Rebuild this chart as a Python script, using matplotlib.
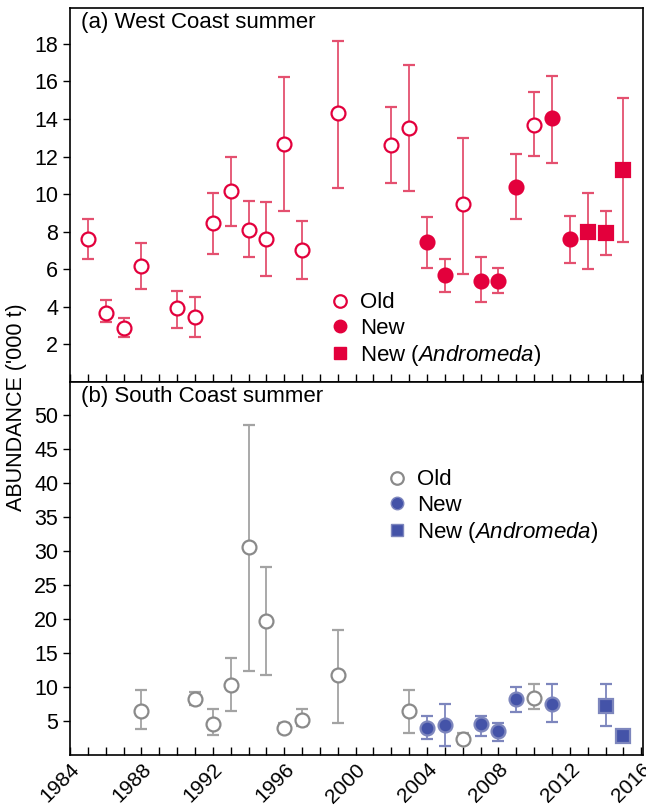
import matplotlib.pyplot as plt
from matplotlib.lines import Line2D
import numpy as np

plt.rcParams['font.family'] = ['Liberation Sans', 'DejaVu Sans']
plt.rcParams['mathtext.fontset'] = 'custom'
plt.rcParams['mathtext.it'] = 'Liberation Sans:italic'
plt.rcParams['mathtext.rm'] = 'Liberation Sans'

# West Coast summer
wc_old_year = [1985, 1986, 1987, 1988, 1990, 1991, 1992, 1993, 1994, 1995, 1996, 1997, 1999, 2002, 2003, 2006, 2010]
wc_old_val = [7.6, 3.7, 2.9, 6.15, 3.95, 3.45, 8.45, 10.15, 8.1, 7.6, 12.65, 7.0, 14.3, 12.6, 13.5, 9.45, 13.7]
wc_old_lo = [6.55, 3.2, 2.4, 4.95, 2.9, 2.4, 6.8, 8.3, 6.65, 5.65, 9.1, 5.5, 10.35, 10.6, 10.15, 5.75, 12.05]
wc_old_hi = [8.7, 4.35, 3.4, 7.4, 4.85, 4.55, 10.05, 12.0, 9.65, 9.6, 16.25, 8.55, 18.15, 14.65, 16.85, 13.0, 15.45]

wc_new_year = [2004, 2005, 2007, 2008, 2009, 2011, 2012]
wc_new_val = [7.45, 5.7, 5.35, 5.4, 10.4, 14.05, 7.6]
wc_new_lo = [6.05, 4.8, 4.25, 4.75, 8.7, 11.65, 6.35]
wc_new_hi = [8.8, 6.55, 6.65, 6.05, 12.15, 16.3, 8.85]

wc_and_year = [2013, 2014, 2015]
wc_and_val = [8.0, 7.95, 11.3]
wc_and_lo = [6.0, 6.75, 7.45]
wc_and_hi = [10.05, 9.1, 15.1]

# South Coast summer
sc_old_year = [1988, 1991, 1992, 1993, 1994, 1995, 1996, 1997, 1999, 2003, 2006, 2010]
sc_old_val = [6.5, 8.3, 4.5, 10.3, 30.5, 19.7, 4.0, 5.2, 11.8, 6.5, 2.4, 8.4]
sc_old_lo = [3.8, 7.3, 3.0, 6.4, 12.4, 11.8, 3.3, 4.3, 4.7, 3.3, 1.6, 6.7]
sc_old_hi = [9.5, 9.3, 6.7, 14.3, 48.5, 27.6, 4.7, 6.7, 18.4, 9.6, 3.3, 10.4]

sc_new_year = [2004, 2005, 2007, 2008, 2009, 2011]
sc_new_val = [3.9, 4.4, 4.5, 3.5, 8.2, 7.5]
sc_new_lo = [2.3, 1.4, 2.8, 2.1, 6.3, 4.8]
sc_new_hi = [5.7, 7.5, 5.7, 4.7, 10.0, 10.4]

sc_and_year = [2014, 2015]
sc_and_val = [7.2, 2.8]
sc_and_lo = [4.3, 2.2]
sc_and_hi = [10.4, 3.4]

red = '#e3003c'
red_err = '#e4506f'
gray = '#8a8a8a'
gray_err = '#a3a3a3'
blue = '#4453a8'
blue_err = '#7d86bd'


def draw(ax, x, v, lo, hi, marker, face, edge, ecol, ms):
    v = np.array(v)
    yerr = [v - np.array(lo), np.array(hi) - v]
    ax.errorbar(x, v, yerr=yerr, fmt=marker, ms=ms, mfc=face, mec=edge, mew=1.6,
                ecolor=ecol, elinewidth=1.3, capsize=4, capthick=1.3, zorder=3)


fig = plt.figure(figsize=(6.46, 8.07), dpi=100)
ax1 = fig.add_axes([0.1084, 0.5266, 0.887, 0.4634])
ax2 = fig.add_axes([0.1084, 0.0644, 0.887, 0.4622])

draw(ax1, wc_old_year, wc_old_val, wc_old_lo, wc_old_hi, 'o', 'white', red, red_err, 10)
draw(ax1, wc_new_year, wc_new_val, wc_new_lo, wc_new_hi, 'o', red, red, red_err, 10)
draw(ax1, wc_and_year, wc_and_val, wc_and_lo, wc_and_hi, 's', red, red, red_err, 9.5)

draw(ax2, sc_old_year, sc_old_val, sc_old_lo, sc_old_hi, 'o', 'white', gray, gray_err, 10)
draw(ax2, sc_new_year, sc_new_val, sc_new_lo, sc_new_hi, 'o', blue, blue_err, blue_err, 10)
draw(ax2, sc_and_year, sc_and_val, sc_and_lo, sc_and_hi, 's', blue, blue_err, blue_err, 9.5)

years = np.arange(1984, 2017)
for ax in (ax1, ax2):
    ax.set_xlim(1984, 2016.1)
    ax.set_xticks(np.arange(1984, 2017, 4))
    ax.set_xticks(years, minor=True)
    ax.tick_params(axis='x', which='both', direction='in', length=6, width=1, top=False)
    ax.tick_params(axis='y', direction='out', length=5, width=1, labelsize=15.5)
    for s in ax.spines.values():
        s.set_linewidth(1.2)

ax1.set_ylim(0, 19.9)
ax1.set_yticks(np.arange(2, 19, 2))
ax1.tick_params(axis='x', labelbottom=False)
ax1.text(0.02, 0.99, '(a) West Coast summer', transform=ax1.transAxes, fontsize=16,
         va='top', ha='left')

ax2.set_ylim(0, 54.8)
ax2.set_yticks(np.arange(5, 51, 5))
ax2.set_xticklabels([str(y) for y in range(1984, 2017, 4)], rotation=45, ha='right',
                    rotation_mode='anchor', fontsize=15)
ax2.text(0.02, 0.99, '(b) South Coast summer', transform=ax2.transAxes, fontsize=16,
         va='top', ha='left')

h1 = [Line2D([], [], ls='none', marker='o', ms=9, mfc='white', mec=red, mew=1.6),
      Line2D([], [], ls='none', marker='o', ms=9, mfc=red, mec=red),
      Line2D([], [], ls='none', marker='s', ms=8.5, mfc=red, mec=red)]
h2 = [Line2D([], [], ls='none', marker='o', ms=9, mfc='white', mec=gray, mew=1.6),
      Line2D([], [], ls='none', marker='o', ms=9, mfc=blue, mec=blue_err),
      Line2D([], [], ls='none', marker='s', ms=8.5, mfc=blue, mec=blue_err)]
labels = ['Old', 'New', r'New ($\it{Andromeda}$)']
ax1.legend(h1, labels, loc='upper left', bbox_to_anchor=(0.455, 0.24), frameon=False,
           fontsize=16, handlelength=0.8, handletextpad=0.5, labelspacing=0.2,
           borderpad=0, borderaxespad=0)
ax2.legend(h2, labels, loc='upper left', bbox_to_anchor=(0.555, 0.766), frameon=False,
           fontsize=16, handlelength=0.8, handletextpad=0.5, labelspacing=0.2,
           borderpad=0, borderaxespad=0)

fig.text(0.025, 0.495, "ABUNDANCE ('000 t)", rotation=90, fontsize=15.5, va='center', ha='center')

fig.savefig('out.png', dpi=100)
